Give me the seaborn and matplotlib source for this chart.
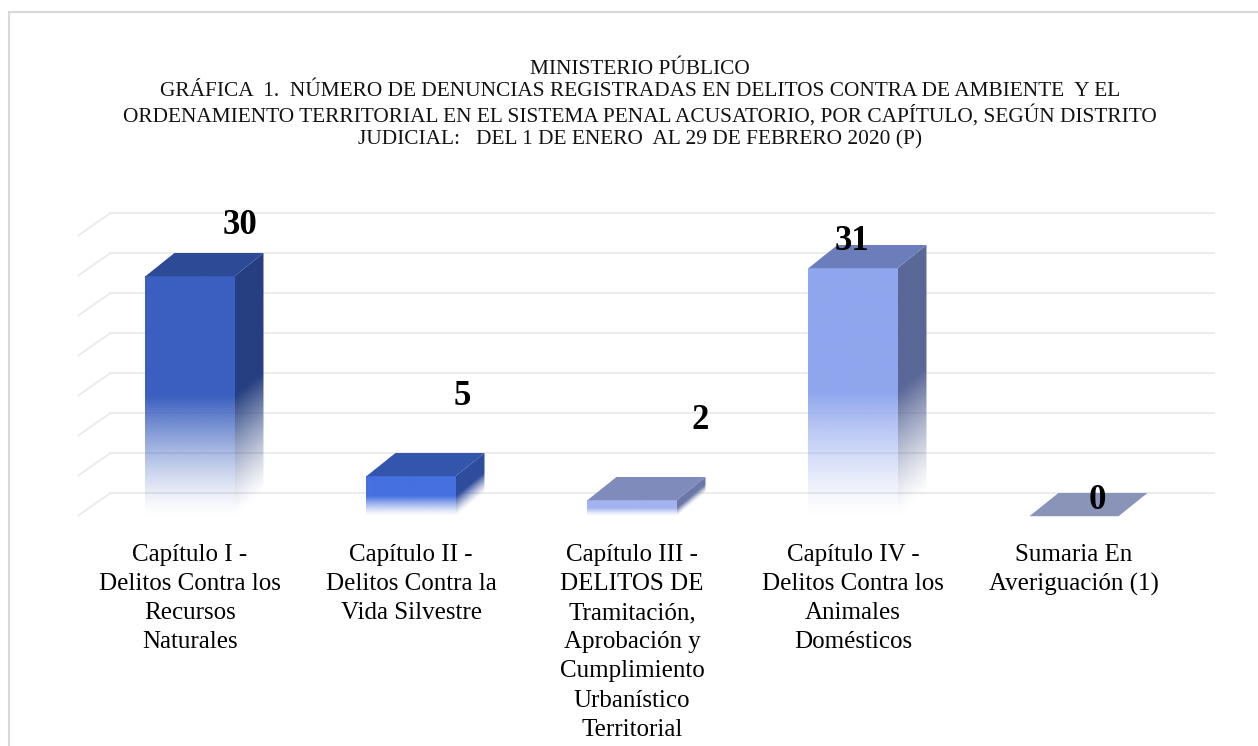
import numpy as np
import pandas as pd
import seaborn as sns
import matplotlib.pyplot as plt
from matplotlib.patches import Polygon
from matplotlib.lines import Line2D
from matplotlib.colors import to_rgb

# DATA
categories = [
    'Capítulo I - Delitos Contra los Recursos Naturales',
    'Capítulo II - Delitos Contra la Vida Silvestre',
    'Capítulo III - DELITOS DE Tramitación, Aprobación y Cumplimiento Urbanístico Territorial',
    'Capítulo IV - Delitos Contra los Animales Domésticos',
    'Sumaria En Averiguación (1)',
]
values = [30, 5, 2, 31, 0]
tick_labels = [
    'Capítulo I -\nDelitos Contra los\nRecursos\nNaturales',
    'Capítulo II -\nDelitos Contra la\nVida Silvestre',
    'Capítulo III -\nDELITOS DE\nTramitación,\nAprobación y\nCumplimiento\nUrbanístico\nTerritorial',
    'Capítulo IV -\nDelitos Contra los\nAnimales\nDomésticos',
    'Sumaria En\nAveriguación (1)',
]
grid_levels = [0, 5, 10, 15, 20, 25, 30, 35]
title = ('MINISTERIO PÚBLICO\n'
         'GRÁFICA  1.  NÚMERO DE DENUNCIAS REGISTRADAS EN DELITOS CONTRA DE AMBIENTE  Y EL\n'
         'ORDENAMIENTO TERRITORIAL EN EL SISTEMA PENAL ACUSATORIO, POR CAPÍTULO, SEGÚN DISTRITO\n'
         'JUDICIAL:   DEL 1 DE ENERO  AL 29 DE FEBRERO 2020 (P)')

# colours per bar: front, top, side
front_colors = ['#3a5fc0', '#4570e0', '#a3b3f0', '#8fa6ee', '#8fa6ee']
top_colors = ['#2c4a96', '#3355ab', '#7f8bbb', '#6b7dbb', '#8a93b8']
side_colors = ['#263f80', '#2e4d9c', '#6c78a8', '#5a6897', '#5a6897']

# 3D look
WIDTH = 0.403
DX = 0.131   # depth in x (category units)
DY = 2.9     # depth in y (value units)
label_dx = [0.226, 0.231, 0.308, -0.005, 0.104]
label_dy = [3.5, 7.1, 7.1, 0.4, -0.9]

SERIF = ['Liberation Serif', 'DejaVu Serif']

sns.set_theme(style='white')
plt.rcParams['font.family'] = SERIF

df = pd.DataFrame({'cat': categories, 'val': values})

fig = plt.figure(figsize=(12.58, 7.46), dpi=100)
ax = fig.add_axes([75 / 1258, 1 - 530 / 746, 1140 / 1258, 325 / 746])

sns.barplot(data=df, x='cat', y='val', hue='cat', palette=front_colors,
            legend=False, width=WIDTH, bottom=-DY, ax=ax, zorder=2)


def fade(t):
    return np.clip(t / 0.5, 0.03, 1.0) ** 1.3


# back wall gridlines
XMIN, XMAX = -0.5204, 4.638
wall_x = -0.51
for g in grid_levels:
    ax.plot([wall_x, wall_x + 0.15, XMAX], [g - DY, g, g],
            color='#e9e9e9', lw=1.2, zorder=0, solid_capstyle='butt')

bars = list(ax.patches)
for i, (bar, v) in enumerate(zip(bars, values)):
    x0 = bar.get_x()
    w = bar.get_width()
    x1 = x0 + w
    y0 = -DY
    h = v
    # front face gradient
    if h > 0:
        n = 200
        t = np.linspace(1, 0, n)
        img = np.zeros((n, 1, 4))
        img[:, 0, :3] = to_rgb(front_colors[i])
        img[:, 0, 3] = fade(t)
        bar.set_facecolor('none')
        bar.set_edgecolor('none')
        im = ax.imshow(img, extent=[x0, x1, y0, y0 + h], origin='upper',
                       aspect='auto', zorder=2, interpolation='bilinear')
        im.set_clip_path(bar)

        # side face with slanted gradient
        side = Polygon([(x1, y0), (x1, y0 + h), (x1 + DX, y0 + h + DY), (x1 + DX, y0 + DY)],
                       closed=True, facecolor='none', edgecolor='none', zorder=2)
        ax.add_patch(side)
        nx, ny = 40, 300
        xs = np.linspace(x1, x1 + DX, nx)
        ys = np.linspace(y0 + h + DY, y0, ny)
        XX, YY = np.meshgrid(xs, ys)
        yy = YY - (XX - x1) / DX * DY
        tt = (yy - y0) / h
        simg = np.zeros((ny, nx, 4))
        simg[..., :3] = to_rgb(side_colors[i])
        simg[..., 3] = fade(tt)
        sim = ax.imshow(simg, extent=[x1, x1 + DX, y0, y0 + h + DY], origin='upper',
                        aspect='auto', zorder=2, interpolation='bilinear')
        sim.set_clip_path(side)

    # top face
    top = Polygon([(x0, y0 + h), (x1, y0 + h), (x1 + DX, y0 + h + DY), (x0 + DX, y0 + h + DY)],
                  closed=True, facecolor=top_colors[i], edgecolor='none', zorder=3)
    ax.add_patch(top)

    ax.text(x0 + w / 2 + label_dx[i], v + label_dy[i], str(v), ha='center', va='center',
            fontsize=25, fontweight='bold', color='black', zorder=5)

ax.set_xlim(XMIN, XMAX)
ax.set_ylim(-4.625, 36)
ax.set_xticks(range(len(categories)))
ax.set_xticklabels(tick_labels, fontsize=18, linespacing=1.42, color='black')
ax.tick_params(axis='x', length=0, pad=10)
ax.set_yticks([])
ax.set_xlabel('')
ax.set_ylabel('')
for s in ax.spines.values():
    s.set_visible(False)

fig.text(640 / 1258, 1 - 60 / 746, title, ha='center', va='top', fontsize=15.4,
         linespacing=1.22, color='#111111')

# outer frame: only top and left edges are visible
border = dict(color='#d9d9d9', lw=1.5, transform=fig.transFigure)
fig.lines.append(Line2D([9 / 1258, 1], [1 - 12 / 746, 1 - 12 / 746], **border))
fig.lines.append(Line2D([9 / 1258, 9 / 1258], [0, 1 - 12 / 746], **border))

fig.savefig('out.png', dpi=100)
